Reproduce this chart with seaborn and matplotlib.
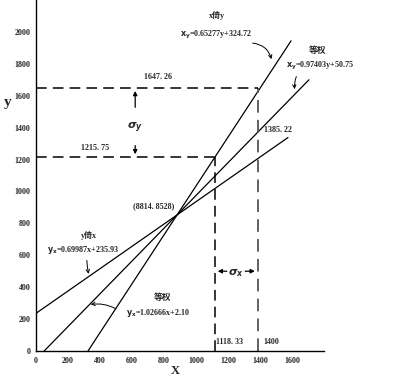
# Regression lines chart: y on x, x on y, and the equal-weight line through the mean point

import pandas as pd
from matplotlib import pyplot as plt
import seaborn as sb

# Line end points
line_names = ['y on x', 'x on y', 'equal']
line_x = [[0, 1575], [325, 1594], [51, 1706]]
line_y = [[236, 1338], [0, 1944], [0, 1700]]

# Dashed guide levels
x_low, x_high = 1118.33, 1385.22
y_low, y_high = 1215.75, 1647.26

x_ticks = [0, 200, 400, 600, 800, 1000, 1200, 1400, 1600]
y_ticks = [0, 200, 400, 600, 800, 1000, 1200, 1400, 1600, 1800, 2000]

rows = []
for name, xs, ys in zip(line_names, line_x, line_y):
    for xv, yv in zip(xs, ys):
        rows.append({'line': name, 'x': xv, 'y': yv})
data = pd.DataFrame(rows)

sb.set_style('white')
plt.rcParams['font.family'] = ['Liberation Serif', 'Noto Sans CJK SC']
plt.rcParams['font.weight'] = 'bold'

fig = plt.figure(figsize=(4, 3.77), dpi=100)
ax = fig.add_axes([0.09, 0.069, 0.72, 0.931])

sb.lineplot(data=data, x='x', y='y', hue='line', palette=['black'] * 3,
            legend=False, ax=ax, linewidth=0.9)

dash = (0, (7, 4))
ax.plot([x_low, x_low], [0, y_low], color='black', linestyle=dash, linewidth=1.1)
ax.plot([x_high, x_high], [0, y_high], color='#555555', linestyle=dash, linewidth=1.3)
ax.plot([0, x_low], [y_low, y_low], color='black', linestyle=dash, linewidth=1.1)
ax.plot([0, x_high], [y_high, y_high], color='black', linestyle=dash, linewidth=1.1)

ax.set_xlim(0, 1800)
ax.set_ylim(0, 2200)
ax.set_xticks(x_ticks)
ax.set_yticks(y_ticks)
ax.tick_params(direction='in', length=3, width=0.8, labelsize=5.8, pad=4)
for lab in ax.get_xticklabels() + ax.get_yticklabels():
    lab.set_fontweight('bold')
sb.despine(ax=ax)
for s in ['left', 'bottom']:
    ax.spines[s].set_color('black')
    ax.spines[s].set_linewidth(1)

ax.set_xlabel('X', fontsize=9, fontweight='bold')
ax.set_ylabel('y', fontsize=11, fontweight='bold', rotation=0)
ax.yaxis.set_label_coords(-0.1, 0.69)
ax.yaxis.label.set_horizontalalignment('center')
ax.xaxis.set_label_coords(0.485, -0.058)
ax.xaxis.label.set_verticalalignment('center')

fs = 5.8
# sigma markers
arr = dict(arrowstyle='-|>', color='black', lw=0.9, mutation_scale=6)
ax.annotate('', xy=(620, y_high), xytext=(620, 1510), arrowprops=arr)
ax.annotate('', xy=(620, y_low), xytext=(620, 1305), arrowprops=arr)
ax.text(620, 1400, r'$\sigma_y$', ha='center', va='center', fontsize=8)
ax.annotate('', xy=(x_low, 500), xytext=(1210, 500), arrowprops=arr)
ax.annotate('', xy=(x_high, 500), xytext=(1290, 500), arrowprops=arr)
ax.text(1252, 490, r'$\sigma_x$', ha='center', va='center', fontsize=8)

# value labels
ax.text(763, 1690, '1647. 26', ha='center', va='bottom', fontsize=fs)
ax.text(370, 1250, '1215. 75', ha='center', va='bottom', fontsize=fs)
ax.text(1512, 1385, '1385. 22', ha='center', va='center', fontsize=fs)
ax.text(1122, 30, '1118. 33', ha='left', va='bottom', fontsize=fs)
ax.text(1420, 30, '1400', ha='left', va='bottom', fontsize=fs)
ax.text(605, 905, '(8814. 8528)', ha='left', va='center', fontsize=fs)

# equations
ax.text(1130, 2105, 'x倚y', ha='center', va='center', fontsize=fs)
ax.text(900, 1980, '$\\mathbf{x_y}$=0.65277y+324.72', ha='left', va='center', fontsize=fs)
ax.text(1760, 1885, '等权', ha='center', va='center', fontsize=fs + 0.5)
ax.text(1560, 1785, '$\\mathbf{x_y}$=0.97403y+50.75', ha='left', va='center', fontsize=fs)
ax.text(330, 725, 'y倚x', ha='center', va='center', fontsize=fs)
ax.text(70, 630, '$\\mathbf{y_x}$=0.69987x+235.93', ha='left', va='center', fontsize=fs)
ax.text(790, 335, '等权', ha='center', va='center', fontsize=fs + 0.5)
ax.text(560, 240, '$\\mathbf{y_x}$=1.02666x+2.10', ha='left', va='center', fontsize=fs)

ptr = dict(arrowstyle='->', color='black', lw=0.7, mutation_scale=6)
ax.annotate('', xy=(1475, 1812), xytext=(1337, 1931),
            arrowprops=dict(ptr, connectionstyle='arc3,rad=-0.4'))
ax.annotate('', xy=(1619, 1624), xytext=(1635, 1735),
            arrowprops=dict(ptr, connectionstyle='angle3,angleA=60,angleB=100'))
ax.annotate('', xy=(331, 466), xytext=(320, 585),
            arrowprops=dict(ptr, connectionstyle='angle3,angleA=60,angleB=100'))
ax.annotate('', xy=(325, 288), xytext=(512, 257),
            arrowprops=dict(ptr, connectionstyle='arc3,rad=0.2'))

plt.savefig('out.png', dpi=100)
